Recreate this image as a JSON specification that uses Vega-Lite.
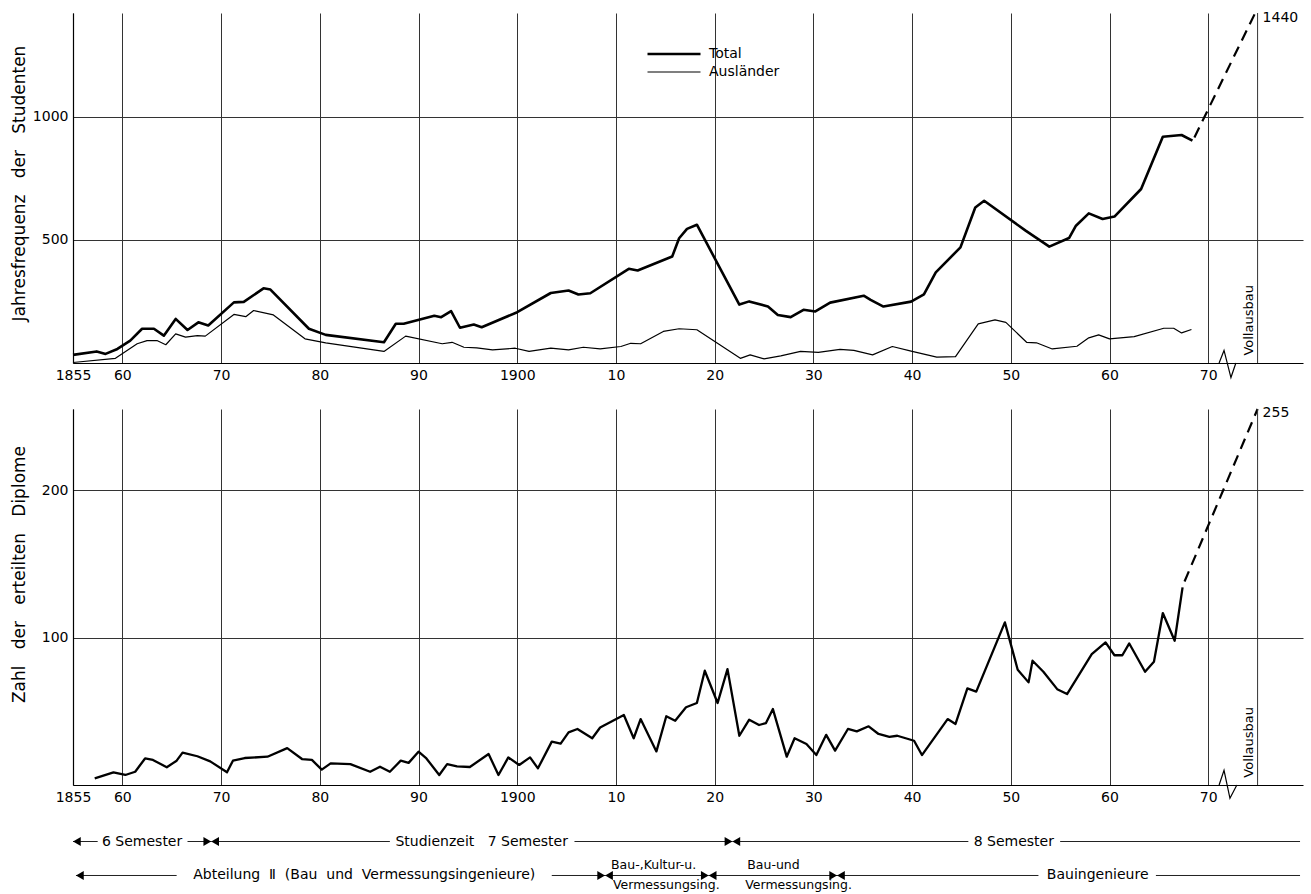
{
  "$schema": "https://vega.github.io/schema/vega-lite/v6.json",
  "background": "white",
  "padding": {"left": 10, "top": 3, "right": 5, "bottom": 0},
  "spacing": 22,
  "config": {
    "view": {"stroke": null},
    "font": "DejaVu Sans",
    "axis": {
      "ticks": false,
      "labelPadding": 5,
      "labelFontSize": 14,
      "labelColor": "black",
      "domainColor": "black",
      "domainWidth": 1.2,
      "gridColor": "#333",
      "gridWidth": 1,
      "gridOpacity": 1,
      "titleFontWeight": "normal",
      "titleFontSize": 17,
      "titleColor": "black"
    }
  },
  "resolve": {"scale": {"x": "independent"}},
  "datasets": {
    "students": [
      {"year": 1855, "value": 33, "series": "Total"},
      {"year": 1857.4, "value": 47, "series": "Total"},
      {"year": 1858.3, "value": 37, "series": "Total"},
      {"year": 1859.5, "value": 57, "series": "Total"},
      {"year": 1860.8, "value": 91, "series": "Total"},
      {"year": 1862, "value": 139, "series": "Total"},
      {"year": 1863.2, "value": 139, "series": "Total"},
      {"year": 1864.2, "value": 111, "series": "Total"},
      {"year": 1865.4, "value": 179, "series": "Total"},
      {"year": 1866.6, "value": 134, "series": "Total"},
      {"year": 1867.7, "value": 165, "series": "Total"},
      {"year": 1868.7, "value": 152, "series": "Total"},
      {"year": 1871.3, "value": 246, "series": "Total"},
      {"year": 1872.3, "value": 248, "series": "Total"},
      {"year": 1874.3, "value": 303, "series": "Total"},
      {"year": 1875, "value": 298, "series": "Total"},
      {"year": 1878.9, "value": 139, "series": "Total"},
      {"year": 1880.6, "value": 114, "series": "Total"},
      {"year": 1886.5, "value": 84, "series": "Total"},
      {"year": 1887.7, "value": 159, "series": "Total"},
      {"year": 1888.5, "value": 159, "series": "Total"},
      {"year": 1891.6, "value": 192, "series": "Total"},
      {"year": 1892.3, "value": 186, "series": "Total"},
      {"year": 1893.3, "value": 210, "series": "Total"},
      {"year": 1894.2, "value": 143, "series": "Total"},
      {"year": 1895.6, "value": 156, "series": "Total"},
      {"year": 1896.4, "value": 145, "series": "Total"},
      {"year": 1900, "value": 206, "series": "Total"},
      {"year": 1903.4, "value": 284, "series": "Total"},
      {"year": 1905.2, "value": 294, "series": "Total"},
      {"year": 1906.2, "value": 278, "series": "Total"},
      {"year": 1907.4, "value": 283, "series": "Total"},
      {"year": 1911.3, "value": 382, "series": "Total"},
      {"year": 1912.2, "value": 375, "series": "Total"},
      {"year": 1915.7, "value": 432, "series": "Total"},
      {"year": 1916.4, "value": 506, "series": "Total"},
      {"year": 1917.2, "value": 544, "series": "Total"},
      {"year": 1918.2, "value": 561, "series": "Total"},
      {"year": 1922.5, "value": 237, "series": "Total"},
      {"year": 1923.5, "value": 250, "series": "Total"},
      {"year": 1925.4, "value": 229, "series": "Total"},
      {"year": 1926.4, "value": 195, "series": "Total"},
      {"year": 1927.7, "value": 186, "series": "Total"},
      {"year": 1929, "value": 216, "series": "Total"},
      {"year": 1930.2, "value": 209, "series": "Total"},
      {"year": 1931.7, "value": 245, "series": "Total"},
      {"year": 1935.1, "value": 273, "series": "Total"},
      {"year": 1935.8, "value": 256, "series": "Total"},
      {"year": 1937.1, "value": 229, "series": "Total"},
      {"year": 1939.9, "value": 249, "series": "Total"},
      {"year": 1941.2, "value": 278, "series": "Total"},
      {"year": 1942.4, "value": 368, "series": "Total"},
      {"year": 1944.9, "value": 469, "series": "Total"},
      {"year": 1946.4, "value": 631, "series": "Total"},
      {"year": 1947.3, "value": 658, "series": "Total"},
      {"year": 1951.5, "value": 537, "series": "Total"},
      {"year": 1953.9, "value": 472, "series": "Total"},
      {"year": 1955.9, "value": 507, "series": "Total"},
      {"year": 1956.6, "value": 557, "series": "Total"},
      {"year": 1957.9, "value": 607, "series": "Total"},
      {"year": 1959.3, "value": 584, "series": "Total"},
      {"year": 1960.5, "value": 594, "series": "Total"},
      {"year": 1963.2, "value": 706, "series": "Total"},
      {"year": 1965.4, "value": 918, "series": "Total"},
      {"year": 1967.3, "value": 925, "series": "Total"},
      {"year": 1968.4, "value": 902, "series": "Total"},
      {"year": 1855, "value": 2, "series": "Ausländer"},
      {"year": 1859.3, "value": 19, "series": "Ausländer"},
      {"year": 1861.5, "value": 78, "series": "Ausländer"},
      {"year": 1862.5, "value": 91, "series": "Ausländer"},
      {"year": 1863.5, "value": 91, "series": "Ausländer"},
      {"year": 1864.4, "value": 74, "series": "Ausländer"},
      {"year": 1865.4, "value": 118, "series": "Ausländer"},
      {"year": 1866.4, "value": 105, "series": "Ausländer"},
      {"year": 1867.6, "value": 111, "series": "Ausländer"},
      {"year": 1868.4, "value": 109, "series": "Ausländer"},
      {"year": 1871.3, "value": 197, "series": "Ausländer"},
      {"year": 1872.5, "value": 188, "series": "Ausländer"},
      {"year": 1873.3, "value": 213, "series": "Ausländer"},
      {"year": 1875.3, "value": 195, "series": "Ausländer"},
      {"year": 1878.5, "value": 98, "series": "Ausländer"},
      {"year": 1880.6, "value": 82, "series": "Ausländer"},
      {"year": 1886.5, "value": 47, "series": "Ausländer"},
      {"year": 1888.7, "value": 109, "series": "Ausländer"},
      {"year": 1892.4, "value": 78, "series": "Ausländer"},
      {"year": 1893.4, "value": 84, "series": "Ausländer"},
      {"year": 1894.6, "value": 64, "series": "Ausländer"},
      {"year": 1895.9, "value": 61, "series": "Ausländer"},
      {"year": 1897.5, "value": 53, "series": "Ausländer"},
      {"year": 1899.8, "value": 60, "series": "Ausländer"},
      {"year": 1901.2, "value": 47, "series": "Ausländer"},
      {"year": 1903.4, "value": 60, "series": "Ausländer"},
      {"year": 1905.2, "value": 53, "series": "Ausländer"},
      {"year": 1906.7, "value": 64, "series": "Ausländer"},
      {"year": 1908.4, "value": 57, "series": "Ausländer"},
      {"year": 1910.5, "value": 67, "series": "Ausländer"},
      {"year": 1911.5, "value": 80, "series": "Ausländer"},
      {"year": 1912.5, "value": 78, "series": "Ausländer"},
      {"year": 1914.8, "value": 128, "series": "Ausländer"},
      {"year": 1916.4, "value": 139, "series": "Ausländer"},
      {"year": 1918.2, "value": 135, "series": "Ausländer"},
      {"year": 1922.6, "value": 19, "series": "Ausländer"},
      {"year": 1923.6, "value": 33, "series": "Ausländer"},
      {"year": 1925, "value": 17, "series": "Ausländer"},
      {"year": 1926.7, "value": 29, "series": "Ausländer"},
      {"year": 1928.7, "value": 47, "series": "Ausländer"},
      {"year": 1930.5, "value": 43, "series": "Ausländer"},
      {"year": 1932.7, "value": 55, "series": "Ausländer"},
      {"year": 1934.1, "value": 51, "series": "Ausländer"},
      {"year": 1936, "value": 33, "series": "Ausländer"},
      {"year": 1938, "value": 67, "series": "Ausländer"},
      {"year": 1939.9, "value": 48, "series": "Ausländer"},
      {"year": 1942.5, "value": 24, "series": "Ausländer"},
      {"year": 1944.4, "value": 26, "series": "Ausländer"},
      {"year": 1946.7, "value": 159, "series": "Ausländer"},
      {"year": 1948.4, "value": 175, "series": "Ausländer"},
      {"year": 1949.5, "value": 165, "series": "Ausländer"},
      {"year": 1951.6, "value": 84, "series": "Ausländer"},
      {"year": 1952.6, "value": 82, "series": "Ausländer"},
      {"year": 1954.2, "value": 57, "series": "Ausländer"},
      {"year": 1956.7, "value": 68, "series": "Ausländer"},
      {"year": 1957.9, "value": 102, "series": "Ausländer"},
      {"year": 1958.9, "value": 114, "series": "Ausländer"},
      {"year": 1960, "value": 98, "series": "Ausländer"},
      {"year": 1962.5, "value": 107, "series": "Ausländer"},
      {"year": 1965.5, "value": 141, "series": "Ausländer"},
      {"year": 1966.5, "value": 141, "series": "Ausländer"},
      {"year": 1967.3, "value": 122, "series": "Ausländer"},
      {"year": 1968.3, "value": 136, "series": "Ausländer"}
    ],
    "studentsProjection": [
      {"year": 1968.6, "value": 915},
      {"year": 1975, "value": 1440}
    ],
    "diplomas": [
      {"year": 1857.2, "value": 4.5}, {"year": 1859.1, "value": 8.6}, {"year": 1860.3, "value": 6.8},
      {"year": 1861.3, "value": 9}, {"year": 1862.3, "value": 18}, {"year": 1863.1, "value": 17},
      {"year": 1864.5, "value": 12}, {"year": 1865.5, "value": 16.5}, {"year": 1866.1, "value": 22},
      {"year": 1867.6, "value": 19.5}, {"year": 1868.9, "value": 16}, {"year": 1870.6, "value": 8.6},
      {"year": 1871.2, "value": 16.5}, {"year": 1872.4, "value": 18.3}, {"year": 1874.7, "value": 19.2},
      {"year": 1876.7, "value": 25}, {"year": 1878.2, "value": 17.6}, {"year": 1879.2, "value": 17},
      {"year": 1880.2, "value": 10.4}, {"year": 1881.1, "value": 14.7}, {"year": 1883.1, "value": 14.2},
      {"year": 1885.1, "value": 9}, {"year": 1886.1, "value": 12.4}, {"year": 1887.1, "value": 9},
      {"year": 1888.2, "value": 16.5}, {"year": 1889, "value": 15}, {"year": 1890, "value": 22.6},
      {"year": 1890.8, "value": 18}, {"year": 1892.1, "value": 6.8}, {"year": 1892.9, "value": 14.2},
      {"year": 1893.9, "value": 12.7}, {"year": 1895.2, "value": 12.2}, {"year": 1897.1, "value": 21},
      {"year": 1898.1, "value": 6.8}, {"year": 1899.1, "value": 18.7}, {"year": 1900.2, "value": 13.6},
      {"year": 1901.3, "value": 18.7}, {"year": 1902.1, "value": 11.3}, {"year": 1903.5, "value": 29.4},
      {"year": 1904.4, "value": 28}, {"year": 1905.2, "value": 35.7}, {"year": 1906.1, "value": 38},
      {"year": 1907.6, "value": 31.7}, {"year": 1908.4, "value": 39}, {"year": 1910.8, "value": 47.5},
      {"year": 1911.8, "value": 31.7}, {"year": 1912.5, "value": 44.7}, {"year": 1914.1, "value": 22.8},
      {"year": 1915.1, "value": 46.6}, {"year": 1916, "value": 43.6}, {"year": 1917.1, "value": 52.7},
      {"year": 1918.2, "value": 55.6}, {"year": 1919, "value": 77.5}, {"year": 1920.3, "value": 55.6},
      {"year": 1921.3, "value": 78.6}, {"year": 1922.5, "value": 33.4}, {"year": 1923.5, "value": 44.3},
      {"year": 1924.5, "value": 40.7}, {"year": 1925.2, "value": 42}, {"year": 1925.9, "value": 51.5},
      {"year": 1927.3, "value": 19.2}, {"year": 1928.1, "value": 31.7}, {"year": 1929.3, "value": 27.8},
      {"year": 1930.3, "value": 20.3}, {"year": 1931.3, "value": 34}, {"year": 1932.2, "value": 23.3},
      {"year": 1933.5, "value": 38}, {"year": 1934.4, "value": 36.4}, {"year": 1935.6, "value": 39.8},
      {"year": 1936.6, "value": 34.6}, {"year": 1937.7, "value": 32.7}, {"year": 1938.5, "value": 33.4},
      {"year": 1940.2, "value": 30}, {"year": 1941, "value": 20.3}, {"year": 1943.6, "value": 44.7},
      {"year": 1944.4, "value": 41.4}, {"year": 1945.6, "value": 65.5}, {"year": 1946.5, "value": 63.3},
      {"year": 1949.4, "value": 110.3}, {"year": 1950.7, "value": 78.2}, {"year": 1951.8, "value": 69.6},
      {"year": 1952.2, "value": 84.3}, {"year": 1953.3, "value": 76.8}, {"year": 1954.7, "value": 65},
      {"year": 1955.7, "value": 61.7}, {"year": 1958.2, "value": 88.8}, {"year": 1959.6, "value": 96.7},
      {"year": 1960.5, "value": 88}, {"year": 1961.3, "value": 88}, {"year": 1962, "value": 96},
      {"year": 1963.6, "value": 76.8}, {"year": 1964.5, "value": 83.6}, {"year": 1965.4, "value": 116.6},
      {"year": 1966.6, "value": 97.8}, {"year": 1967.4, "value": 134}
    ],
    "diplomasProjection": [
      {"year": 1967.6, "value": 138},
      {"year": 1975, "value": 255}
    ],
    "markers": [{"year": 1975, "label": "Vollausbau"}],
    "breakTop": [
      {"year": 1971.1, "value": 0}, {"year": 1971.6, "value": 51},
      {"year": 1972.3, "value": -59}, {"year": 1972.8, "value": 0}
    ],
    "breakBottom": [
      {"year": 1971.1, "value": 0}, {"year": 1971.6, "value": 10},
      {"year": 1972.2, "value": -9}, {"year": 1972.9, "value": 0}
    ],
    "periods": [
      {"row": "Studienzeit", "from": 1855.0, "to": 1857.5},
      {"row": "Studienzeit", "from": 1866.6, "to": 1869.0},
      {"row": "Studienzeit", "from": 1869.0, "to": 1887.1},
      {"row": "Studienzeit", "from": 1905.8, "to": 1921.8},
      {"row": "Studienzeit", "from": 1921.8, "to": 1945.7},
      {"row": "Studienzeit", "from": 1955.0, "to": 1979.3},
      {"row": "Abteilung", "from": 1855.3, "to": 1865.5},
      {"row": "Abteilung", "from": 1903.5, "to": 1908.9},
      {"row": "Abteilung", "from": 1908.9, "to": 1919.4},
      {"row": "Abteilung", "from": 1919.4, "to": 1932.4},
      {"row": "Abteilung", "from": 1932.4, "to": 1952.8},
      {"row": "Abteilung", "from": 1964.7, "to": 1979.3}
    ],
    "periodLabels": [
      {"row": "Studienzeit", "year": 1862.0, "label": "6 Semester"},
      {"row": "Studienzeit", "year": 1896.4, "label": "Studienzeit\u00a0\u00a0 7 Semester"},
      {"row": "Studienzeit", "year": 1950.3, "label": "8 Semester"},
      {"row": "Abteilung", "year": 1884.5, "label": "Abteilung\u00a0 \u2161\u00a0 (Bau\u00a0 und\u00a0 Vermessungsingenieure)"},
      {"row": "Abteilung", "year": 1958.8, "label": "Bauingenieure"}
    ],
    "subLabels": [
      {"row": "Abteilung", "year": 1909.5, "pos": "above", "label": "Bau-,Kultur-u."},
      {"row": "Abteilung", "year": 1909.7, "pos": "below", "label": "Vermessungsing."},
      {"row": "Abteilung", "year": 1923.3, "pos": "above", "label": "Bau-und"},
      {"row": "Abteilung", "year": 1923.1, "pos": "below", "label": "Vermessungsing."}
    ],
    "arrows": [
      {"row": "Studienzeit", "year": 1855.0, "kind": "start"},
      {"row": "Studienzeit", "year": 1869.0, "kind": "joint"},
      {"row": "Studienzeit", "year": 1921.8, "kind": "joint"},
      {"row": "Abteilung", "year": 1855.3, "kind": "start"},
      {"row": "Abteilung", "year": 1908.9, "kind": "joint"},
      {"row": "Abteilung", "year": 1919.4, "kind": "joint"},
      {"row": "Abteilung", "year": 1932.4, "kind": "joint"}
    ]
  },
  "vconcat": [
    {
      "width": 1230,
      "height": 350,
      "encoding": {
        "x": {
          "field": "year", "type": "quantitative",
          "scale": {"domain": [1855, 1979.6], "nice": false, "zero": false},
          "axis": {
            "title": null, "grid": true,
            "values": [1855, 1860, 1870, 1880, 1890, 1900, 1910, 1920, 1930, 1940, 1950, 1960, 1970],
            "labelExpr": "datum.value == 1855 || datum.value == 1900 ? '' + datum.value : '' + (datum.value % 100)",
            "labelFlush": false, "labelOverlap": false
          }
        }
      },
      "layer": [
        {
          "data": {"name": "students"},
          "mark": {"type": "line", "color": "black", "strokeJoin": "round"},
          "encoding": {
            "y": {
              "field": "value", "type": "quantitative",
              "scale": {"domain": [0, 1420], "nice": false},
              "axis": {
                "values": [500, 1000], "grid": true, "format": "d",
                "title": "Jahresfrequenz\u00a0\u00a0\u00a0der\u00a0\u00a0\u00a0Studenten",
                "titleX": -49, "titleY": 170, "titleBaseline": "alphabetic", "titleAlign": "center"
              }
            },
            "strokeWidth": {
              "field": "series", "type": "nominal",
              "scale": {"type": "ordinal", "domain": ["Total", "Ausländer"], "range": [2.6, 1.2]},
              "legend": {
                "title": null, "orient": "none", "legendX": 573, "legendY": 33,
                "direction": "vertical", "symbolType": "stroke", "symbolSize": 2809,
                "symbolStrokeColor": "black", "clipHeight": 16, "rowPadding": 2,
                "labelFontSize": 14, "labelOffset": 7, "labelColor": "black", "padding": 0
              }
            }
          }
        },
        {
          "data": {"name": "studentsProjection"},
          "mark": {"type": "line", "color": "black", "strokeWidth": 2.2, "strokeDash": [11, 7]},
          "encoding": {"y": {"field": "value", "type": "quantitative"}}
        },
        {
          "data": {"name": "studentsProjection"},
          "transform": [{"filter": "datum.year == 1975"}],
          "mark": {"type": "text", "align": "left", "baseline": "middle", "dx": 5, "dy": 10, "fontSize": 14, "color": "black"},
          "encoding": {"y": {"field": "value", "type": "quantitative"}, "text": {"field": "value", "type": "quantitative", "format": "d"}}
        },
        {
          "data": {"name": "markers"},
          "mark": {"type": "rule", "color": "#333", "strokeWidth": 1},
          "encoding": {}
        },
        {
          "data": {"name": "markers"},
          "mark": {"type": "text", "angle": 270, "align": "left", "baseline": "alphabetic", "dy": -5, "fontSize": 13, "color": "black"},
          "encoding": {"y": {"datum": 30, "type": "quantitative"}, "text": {"field": "label"}}
        },
        {
          "data": {"name": "breakTop"},
          "mark": {"type": "line", "color": "black", "strokeWidth": 1.2},
          "encoding": {"y": {"field": "value", "type": "quantitative"}}
        }
      ]
    },
    {
      "width": 1230,
      "height": 376,
      "encoding": {
        "x": {
          "field": "year", "type": "quantitative",
          "scale": {"domain": [1855, 1979.6], "nice": false, "zero": false},
          "axis": {
            "title": null, "grid": true,
            "values": [1855, 1860, 1870, 1880, 1890, 1900, 1910, 1920, 1930, 1940, 1950, 1960, 1970],
            "labelExpr": "datum.value == 1855 || datum.value == 1900 ? '' + datum.value : '' + (datum.value % 100)",
            "labelFlush": false, "labelOverlap": false
          }
        }
      },
      "layer": [
        {
          "data": {"name": "diplomas"},
          "mark": {"type": "line", "color": "black", "strokeWidth": 2.3, "strokeJoin": "round"},
          "encoding": {
            "y": {
              "field": "value", "type": "quantitative",
              "scale": {"domain": [0, 255], "nice": false},
              "axis": {
                "values": [100, 200], "grid": true, "format": "d",
                "title": "Zahl\u00a0\u00a0\u00a0der\u00a0\u00a0\u00a0erteilten\u00a0\u00a0\u00a0Diplome",
                "titleX": -49, "titleY": 165, "titleBaseline": "alphabetic", "titleAlign": "center"
              }
            }
          }
        },
        {
          "data": {"name": "diplomasProjection"},
          "mark": {"type": "line", "color": "black", "strokeWidth": 2.2, "strokeDash": [11, 7]},
          "encoding": {"y": {"field": "value", "type": "quantitative"}}
        },
        {
          "data": {"name": "diplomasProjection"},
          "transform": [{"filter": "datum.year == 1975"}],
          "mark": {"type": "text", "align": "left", "baseline": "middle", "dx": 5, "dy": 4, "fontSize": 14, "color": "black"},
          "encoding": {"y": {"field": "value", "type": "quantitative"}, "text": {"field": "value", "type": "quantitative", "format": "d"}}
        },
        {
          "data": {"name": "markers"},
          "mark": {"type": "rule", "color": "#333", "strokeWidth": 1},
          "encoding": {}
        },
        {
          "data": {"name": "markers"},
          "mark": {"type": "text", "angle": 270, "align": "left", "baseline": "alphabetic", "dy": -5, "fontSize": 13, "color": "black"},
          "encoding": {"y": {"datum": 5, "type": "quantitative"}, "text": {"field": "label"}}
        },
        {
          "data": {"name": "breakBottom"},
          "mark": {"type": "line", "color": "black", "strokeWidth": 1.2},
          "encoding": {"y": {"field": "value", "type": "quantitative"}}
        }
      ]
    },
    {
      "width": 1230,
      "height": 65,
      "encoding": {
        "y": {
          "field": "row", "type": "nominal",
          "scale": {"type": "point", "domain": ["Studienzeit", "Abteilung"], "padding": 0.456},
          "axis": null
        }
      },
      "layer": [
        {
          "data": {"name": "periods"},
          "mark": {"type": "rule", "color": "#222", "strokeWidth": 1},
          "encoding": {
            "x": {"field": "from", "type": "quantitative", "scale": {"domain": [1855, 1979.6], "nice": false, "zero": false}, "axis": null},
            "x2": {"field": "to"}
          }
        },
        {
          "data": {"name": "periodLabels"},
          "mark": {"type": "text", "align": "center", "baseline": "middle", "fontSize": 14, "color": "black"},
          "encoding": {
            "x": {"field": "year", "type": "quantitative"},
            "text": {"field": "label"}
          }
        },
        {
          "data": {"name": "subLabels"},
          "transform": [{"filter": "datum.pos == 'above'"}],
          "mark": {"type": "text", "align": "left", "baseline": "middle", "dy": -10, "fontSize": 12.5, "color": "black"},
          "encoding": {
            "x": {"field": "year", "type": "quantitative"},
            "text": {"field": "label"}
          }
        },
        {
          "data": {"name": "subLabels"},
          "transform": [{"filter": "datum.pos == 'below'"}],
          "mark": {"type": "text", "align": "left", "baseline": "middle", "dy": 10, "fontSize": 12.5, "color": "black"},
          "encoding": {
            "x": {"field": "year", "type": "quantitative"},
            "text": {"field": "label"}
          }
        },
        {
          "data": {"name": "arrows"},
          "mark": {"type": "point", "shape": "triangle-left", "filled": true, "color": "black", "opacity": 1, "size": 80, "xOffset": 3.9},
          "encoding": {"x": {"field": "year", "type": "quantitative"}}
        },
        {
          "data": {"name": "arrows"},
          "transform": [{"filter": "datum.kind == 'joint'"}],
          "mark": {"type": "point", "shape": "triangle-right", "filled": true, "color": "black", "opacity": 1, "size": 80, "xOffset": -3.9},
          "encoding": {"x": {"field": "year", "type": "quantitative"}}
        }
      ]
    }
  ]
}
